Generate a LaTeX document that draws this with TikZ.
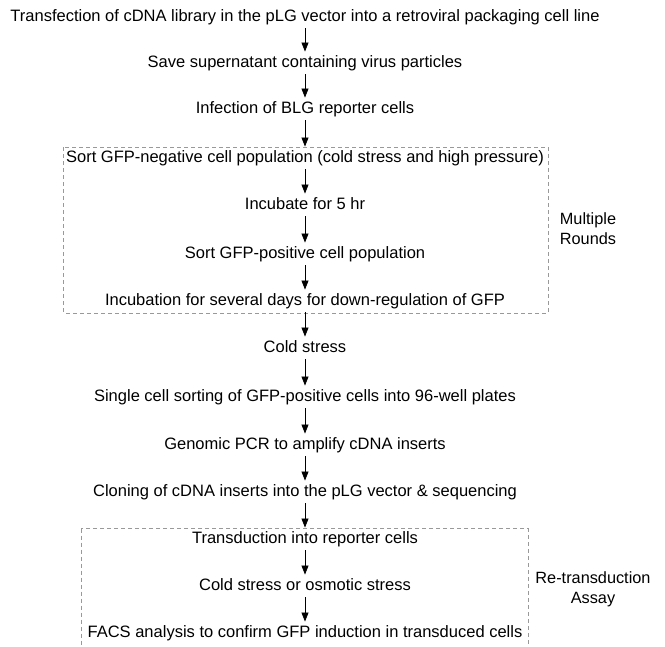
\documentclass[tikz,border=0pt]{standalone}
\usepackage{fontspec}
\setmainfont{Liberation Sans}
\usetikzlibrary{arrows.meta}
\begin{document}
\begin{tikzpicture}[x=1pt,y=-1pt,
  stepnode/.style={inner xsep=0pt, inner ysep=3.5pt, text height=12pt, text depth=3.5pt, font=\fontsize{16.5}{18}\selectfont},
  sidelabel/.style={align=center, font=\fontsize{16.3}{20}\selectfont},
  flow/.style={-{Triangle[width=7pt,length=9pt]}, line width=0.8pt, black},
  groupbox/.style={draw=black!40, dashed, dash pattern=on 4pt off 3pt, line width=0.6pt}]
\useasboundingbox (0,0) rectangle (665,647);
\begin{scope}
\clip (0,0) rectangle (665,647);
\draw[groupbox] (63.5,147.5) rectangle (548,313);
\draw[groupbox] (81,528.5) rectangle (528,660);
\end{scope}
\node[stepnode] (n1) at (305,17) {Transfection of cDNA library in the pLG vector into a retroviral packaging cell line};
\node[stepnode] (n2) at (305,63) {Save supernatant containing virus particles};
\node[stepnode] (n3) at (305,109) {Infection of BLG reporter cells};
\node[stepnode] (n4) at (305,158) {Sort GFP-negative cell population (cold stress and high pressure)};
\node[stepnode] (n5) at (305,205) {Incubate for 5 hr};
\node[stepnode] (n6) at (305,254) {Sort GFP-positive cell population};
\node[stepnode] (n7) at (305,301) {Incubation for several days for down-regulation of GFP};
\node[stepnode] (n8) at (305,348) {Cold stress};
\node[stepnode] (n9) at (305,397) {Single cell sorting of GFP-positive cells into 96-well plates};
\node[stepnode] (n10) at (305,445) {Genomic PCR to amplify cDNA inserts};
\node[stepnode] (n11) at (305,492) {Cloning of cDNA inserts into the pLG vector \& sequencing};
\node[stepnode] (n12) at (305,539) {Transduction into reporter cells};
\node[stepnode] (n13) at (305,586) {Cold stress or osmotic stress};
\node[stepnode] (n14) at (305,633) {FACS analysis to confirm GFP induction in transduced cells};
\node[sidelabel] (mr) at (588,229) {Multiple\\Rounds};
\node[sidelabel] (rt) at (593,589) {Re-transduction\\Assay};
\foreach \a/\b in {n1/n2,n2/n3,n3/n4,n4/n5,n5/n6,n6/n7,n7/n8,n8/n9,n9/n10,n10/n11,n11/n12,n12/n13,n13/n14}
  \draw[flow] (\a.south) -- (\b.north);
\end{tikzpicture}
\end{document}
